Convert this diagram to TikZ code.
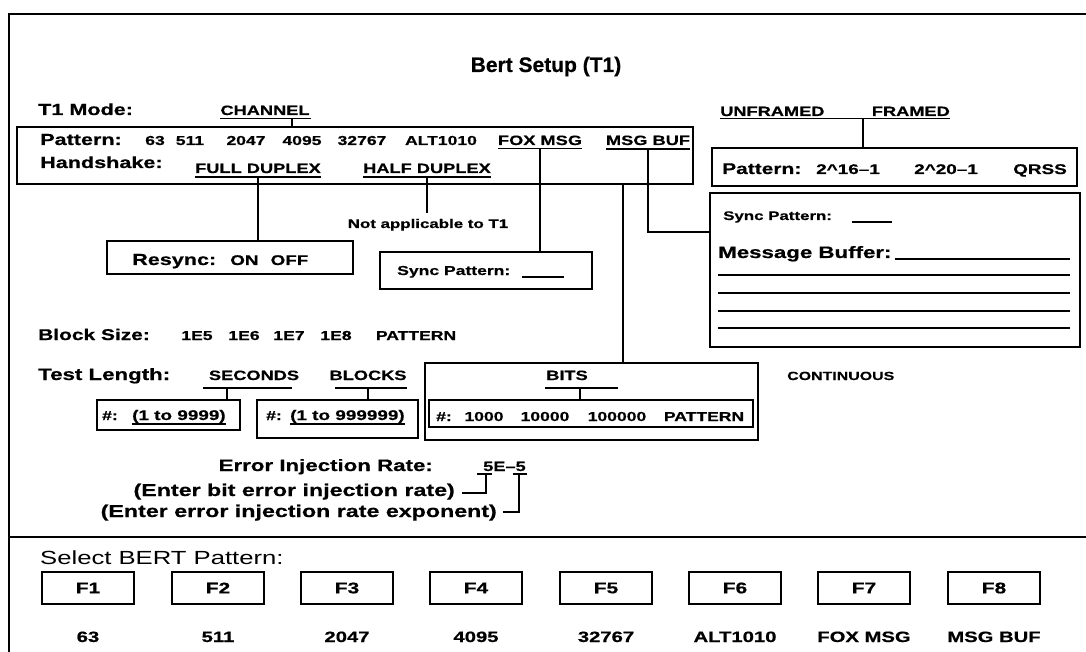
\documentclass[tikz,border=0pt]{standalone}
\usepackage{fontspec}
\setmainfont{Liberation Sans}[FakeStretch=1.35, BoldFeatures={FakeBold=0.6}]
\newfontfamily\titlefont{Liberation Sans}[BoldFeatures={FakeBold=0.6}]
\newcommand\sz[1]{\fontsize{#1}{#1}\selectfont}

\begin{document}
\begin{tikzpicture}[x=1pt,y=-1pt,
    lbl/.style={font=\bfseries\sz{16}, anchor=base west, inner sep=0pt},
    opt/.style={font=\bfseries\sz{13.5}, anchor=base, inner sep=0pt},
    val/.style={font=\bfseries\sz{13}, anchor=base, inner sep=0pt},
    box/.style={draw, line width=2pt, inner sep=0pt, outer sep=0pt},
    wire/.style={line width=1.8pt},
    fkey/.style={box, minimum width=92pt, minimum height=32pt, font=\bfseries\sz{15.5}},
    fname/.style={font=\bfseries\sz{15}, anchor=base, inner sep=0pt}]
    \useasboundingbox (0,0) rectangle (1086,652);
    \draw[line width=2.6pt] (9,652) -- (9,14) -- (1086,14);
    \draw[line width=2.6pt] (9,537) -- (1086,537);
    \node[font=\titlefont\bfseries\sz{21}, anchor=base] (title) at (546,72) {Bert Setup (T1)};

    \node[lbl] (mode) at (38,115) {T1 Mode:};
    \node[opt] (chan) at (265,115) {CHANNEL};
    \draw[wire] (220,118.5) -- (311,118.5);
    \coordinate (chanul) at (292,118.5);

    \node[box, minimum width=676pt, minimum height=57pt] (patbox) at (355,155.5) {};
    \draw[wire] (chanul) -- (chanul |- patbox.north);
    \node[lbl] (pat) at (40,145) {Pattern:};
    \node[val] (p63) at (155,145) {63};
    \node[val] (p511) at (190,145) {511};
    \node[val] (p2047) at (246,145) {2047};
    \node[val] (p4095) at (302,145) {4095};
    \node[val] (p32767) at (362,145) {32767};
    \node[val] (palt) at (441,145) {ALT1010};
    \node[opt] (fox) at (540,145) {FOX MSG};
    \node[opt] (msgbuf) at (648,145) {MSG BUF};
    \draw[wire] ([yshift=-3.5pt]fox.base west) -- ([yshift=-3.5pt]fox.base east);
    \draw[wire] ([yshift=-4pt]msgbuf.base west) -- ([yshift=-4pt]msgbuf.base east);

    \node[lbl] (hand) at (40,168) {Handshake:};
    \node[opt] (full) at (258,173) {FULL DUPLEX};
    \node[opt] (half) at (427,173) {HALF DUPLEX};
    \draw[wire] ([yshift=-4pt]full.base west) -- ([yshift=-4pt]full.base east);
    \draw[wire] ([yshift=-4pt]half.base west) -- ([yshift=-4pt]half.base east);
    \node[font=\bfseries\sz{12.5}, anchor=base, inner sep=0pt] (na) at (428,228) {Not applicable to T1};
    \draw[wire] ([yshift=-4pt]half.base) -- ([yshift=6pt]half.base |- na.north);

    \node[box, minimum width=246pt, minimum height=33pt] (resync) at (230,257.5) {};
    \node[font=\bfseries\sz{16}, anchor=base west, inner sep=0pt] (rstxt) at (132,265) {Resync:\hspace{14pt}{\sz{14}ON\hspace{12pt}OFF}};
    \draw[wire] ([yshift=-4pt]full.base) -- (full.base |- resync.north);

    \node[box, minimum width=212pt, minimum height=37pt] (syncbox) at (486,270.5) {};
    \node[font=\bfseries\sz{13}, anchor=base west, inner sep=0pt] (synctxt) at (397,275) {Sync Pattern:\hspace{12pt}\rule[-3pt]{42pt}{1.6pt}};
    \draw[wire] ([yshift=-3.5pt]fox.base) -- (fox.base |- syncbox.north);

    \node[opt, anchor=base west] (unfr) at (720,116) {UNFRAMED};
    \node[opt, anchor=base east] (fram) at (950,116) {FRAMED};
    \draw[wire] ([yshift=-2.5pt]unfr.base west) -- ([yshift=-2.5pt]fram.base east);
    \node[box, minimum width=365pt, minimum height=38pt] (rpat) at (894.5,167) {};
    \draw[wire] ([xshift=-31.5pt]rpat.north) -- ++(0,-30);
    \node[lbl, font=\bfseries\sz{15.5}] (rpattxt) at (722,174) {Pattern:};
    \node[val, font=\bfseries\sz{14}] (r216) at (848,174) {2\textasciicircum 16--1};
    \node[val, font=\bfseries\sz{14}] (r220) at (946,174) {2\textasciicircum 20--1};
    \node[val, font=\bfseries\sz{14}] (rqrss) at (1040,174) {QRSS};

    \node[box, minimum width=370pt, minimum height=154pt] (msgbox) at (895,270) {};
    \node[font=\bfseries\sz{12.5}, anchor=base west, inner sep=0pt] (msync) at (723,220) {Sync Pattern:\hspace{20pt}\rule[-3pt]{40pt}{1.6pt}};
    \node[lbl, font=\bfseries\sz{16.5}] (mbuf) at (718,258) {Message Buffer:};
    \draw[wire] ([xshift=3pt,yshift=-1pt]mbuf.base east) -- (1070,259);
    \draw[wire] (718,275) -- (1070,275);
    \draw[wire] (718,293) -- (1070,293);
    \draw[wire] (718,311) -- (1070,311);
    \draw[wire] (718,328) -- (1070,328);
    \draw[wire] ([yshift=-4pt]msgbuf.base) |- ([yshift=38pt]msgbox.west);

    \node[lbl, font=\bfseries\sz{15.5}] (blk) at (38,340) {Block Size:};
    \node[val] (b1) at (197,340) {1E5};
    \node[val] (b2) at (244,340) {1E6};
    \node[val] (b3) at (289,340) {1E7};
    \node[val] (b4) at (336,340) {1E8};
    \node[val] (b5) at (416,340) {PATTERN};

    \node[lbl, font=\bfseries\sz{16.5}] (tlen) at (38,380) {Test Length:};
    \node[opt] (secs) at (254,380) {SECONDS};
    \node[opt] (blks) at (368,380) {BLOCKS};
    \node[box, minimum width=143pt, minimum height=30pt] (secbox) at (168.5,415) {};
    \node[box, minimum width=161pt, minimum height=38pt] (blkbox) at (337.5,419) {};
    \coordinate (secj) at (227,388);
    \coordinate (blkj) at (368,388);
    \draw[wire] (203,388) -- (292,388);
    \draw[wire] (secj) -- (secj |- secbox.north);
    \draw[wire] (335,388) -- (407,388);
    \draw[wire] (blkj) -- (blkj |- blkbox.north);
    \node[val, anchor=base west] (sech) at (102,420) {\#:};
    \node[val, anchor=base west, font=\bfseries\sz{14}] (secr) at (132,420) {(1 to 9999)};
    \draw[wire] ([yshift=-4pt]secr.base west) -- ([yshift=-4pt]secr.base east);
    \node[val, anchor=base west] (blkh) at (266,420) {\#:};
    \node[val, anchor=base west, font=\bfseries\sz{14}] (blkr) at (290,420) {(1 to 999999)};
    \draw[wire] ([yshift=-4pt]blkr.base west) -- ([yshift=-4pt]blkr.base east);

    \node[box, minimum width=333pt, minimum height=77pt] (bitsbox) at (591.5,401.5) {};
    \draw[wire] ([xshift=268pt]patbox.south) -- ([xshift=268pt]patbox.south |- bitsbox.north);
    \node[opt] (bits) at (567,380) {BITS};
    \node[box, minimum width=324pt, minimum height=27pt] (bitsin) at (591,413.5) {};
    \coordinate (bitj) at (580,388);
    \draw[wire] (545,388) -- (618,388);
    \draw[wire] (bitj) -- (bitj |- bitsin.north);
    \node[val, anchor=base west] (bith) at (436,421) {\#:};
    \node[val] (bit1) at (484,421) {1000};
    \node[val] (bit2) at (545,421) {10000};
    \node[val] (bit3) at (617,421) {100000};
    \node[val] (bit4) at (704,421) {PATTERN};
    \node[opt, anchor=base west, font=\bfseries\sz{11.8}] (cont) at (787,380) {CONTINUOUS};

    \node[lbl, anchor=base east, font=\bfseries\sz{16.5}] (eir) at (433,471) {Error Injection Rate:};
    \node[opt, anchor=base west] (rate) at (483,471) {5E--5};
    \node[lbl, anchor=base east, font=\bfseries\sz{17.2}] (enter1) at (455,496) {(Enter bit error injection rate)};
    \node[lbl, anchor=base east, font=\bfseries\sz{17.2}] (enter2) at (497,517) {(Enter error injection rate exponent)};
    \draw[wire] (477,474) -- (492,474);
    \draw[wire] (486,474) -- (486,493) -- (462,493);
    \draw[wire] (513,474) -- (527,474);
    \draw[wire] (519,474) -- (519,512) -- (503,512);

    \node[lbl, font=\mdseries\sz{19}] (sel) at (40,564) {Select BERT Pattern:};
    \node[fkey] (f1) at (88,588) {F1};
    \node[fkey] (f2) at (218,588) {F2};
    \node[fkey] (f3) at (347,588) {F3};
    \node[fkey] (f4) at (476,588) {F4};
    \node[fkey] (f5) at (606,588) {F5};
    \node[fkey] (f6) at (735,588) {F6};
    \node[fkey] (f7) at (864,588) {F7};
    \node[fkey] (f8) at (994,588) {F8};
    \node[fname] (n1) at (88,642) {63};
    \node[fname] (n2) at (218,642) {511};
    \node[fname] (n3) at (347,642) {2047};
    \node[fname] (n4) at (476,642) {4095};
    \node[fname] (n5) at (606,642) {32767};
    \node[fname] (n6) at (735,642) {ALT1010};
    \node[fname] (n7) at (864,642) {FOX MSG};
    \node[fname] (n8) at (994,642) {MSG BUF};
\end{tikzpicture}
\end{document}
